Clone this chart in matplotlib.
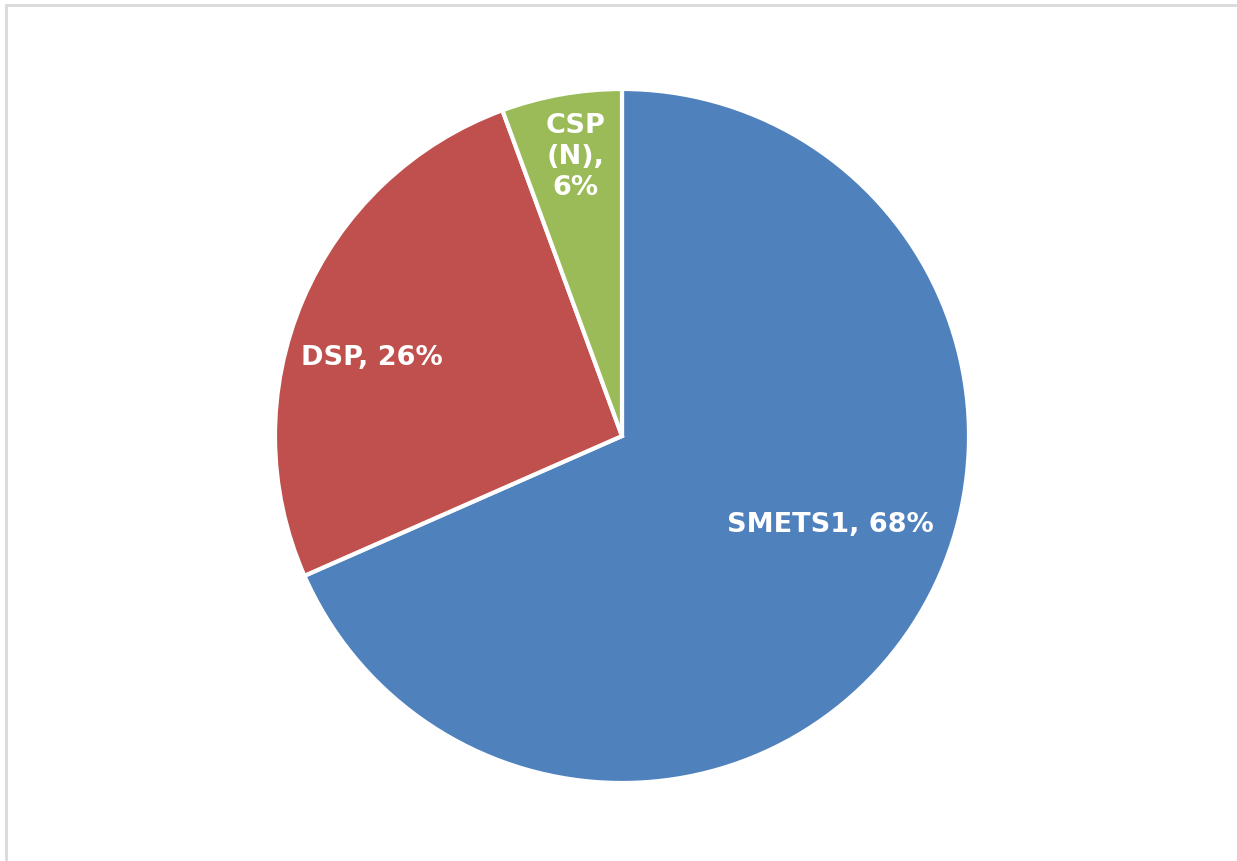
import matplotlib
matplotlib.use("Agg")
import matplotlib.pyplot as plt
from matplotlib.patches import Rectangle

W, H = 1237, 862

# Share of meters by type (%), labels show rounded values
labels = ["SMETS1", "DSP", "CSP\n(N)"]
shares = [68.4, 26.0, 5.6]
colors = ["#4F81BD", "#C0504D", "#9BBB59"]
# label anchor points inside each wedge (axes data units, radius = 1)
label_pos = [(0.60, -0.255), (-0.72, 0.228), (-0.133, 0.808)]

fig = plt.figure(figsize=(W / 100, H / 100), dpi=100)

# light grey chart frame (right/bottom fall outside the image)
fig.patches.append(Rectangle((6 / W, -0.05), 1.2, 1 - 6 / H + 0.05,
                             transform=fig.transFigure, fill=False,
                             edgecolor="#d9d9d9", lw=2))

cx, cy, r = 622, 437, 347
ax = fig.add_axes([(cx - r) / W, (H - cy - r) / H, 2 * r / W, 2 * r / H])
ax.pie(shares, colors=colors, startangle=90, counterclock=False,
       wedgeprops=dict(edgecolor="white", linewidth=3))
ax.set_xlim(-1, 1)
ax.set_ylim(-1, 1)
ax.set_aspect("equal")
ax.axis("off")

for name, pct, (x, y) in zip(labels, shares, label_pos):
    if "\n" in name:
        txt = f"{name},\n{pct:.0f}%"
    else:
        txt = f"{name}, {pct:.0f}%"
    ax.text(x, y, txt, ha="center", va="center", color="white",
            fontsize=19.5, fontweight="bold", family="DejaVu Sans",
            linespacing=1.25)

fig.savefig("out.png", dpi=100)
